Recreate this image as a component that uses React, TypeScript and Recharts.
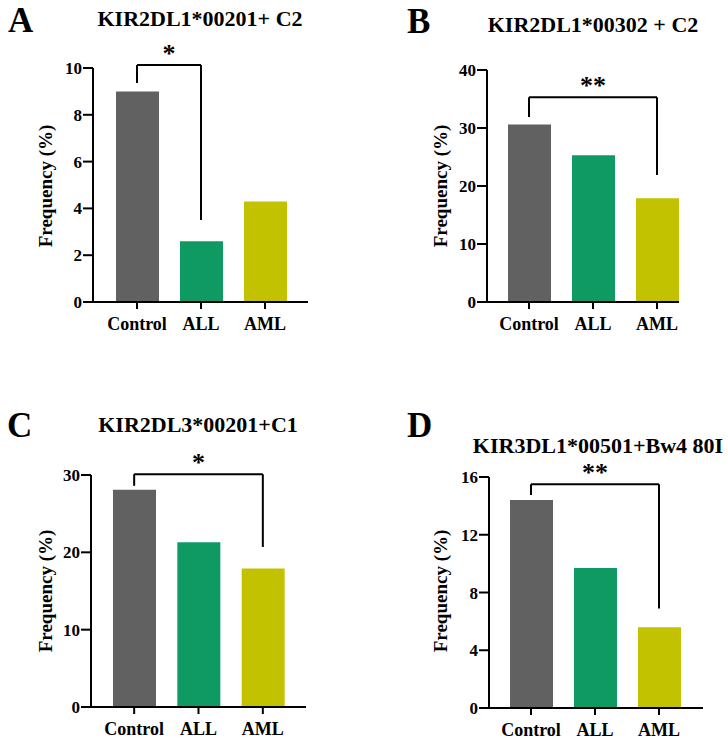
import React from "react";
import { BarChart, Bar, XAxis, YAxis, Cell, ReferenceLine } from "recharts";

const groups = ["Control", "ALL", "AML"];
const groupColors = ["#616161", "#0f9a64", "#c3c200"];

const freqA = [9.0, 2.6, 4.3];
const freqB = [30.6, 25.3, 17.9];
const freqC = [28.1, 21.3, 17.9];
const freqD = [14.4, 9.7, 5.6];

const ticksA = [0, 2, 4, 6, 8, 10];
const ticksB = [0, 10, 20, 30, 40];
const ticksC = [0, 10, 20, 30];
const ticksD = [0, 4, 8, 12, 16];

const titles = [
  "KIR2DL1*00201+ C2",
  "KIR2DL1*00302 + C2",
  "KIR2DL3*00201+C1",
  "KIR3DL1*00501+Bw4 80I",
];
const panelLetters = ["A", "B", "C", "D"];

// significance brackets: [from group, to group, left leg low, top, right leg low]
const bracketA: [string, string, number, number, number] = ["Control", "ALL", 9.36, 10.13, 3.5];
const bracketB: [string, string, number, number, number] = ["Control", "AML", 31.9, 35.3, 21.9];
const bracketC: [string, string, number, number, number] = ["Control", "AML", 28.6, 30.1, 20.7];
const bracketD: [string, string, number, number, number] = ["Control", "AML", 14.75, 15.5, 6.9];
const starsA = "*";
const starsB = "**";
const starsC = "*";
const starsD = "**";

const FONT = "Liberation Serif, DejaVu Serif, serif";
const PANEL_W = 364;
const PANEL_H = 370;

type PanelProps = {
  values: number[];
  ticks: number[];
  bracket: [string, string, number, number, number];
  stars: string;
  margin: { top: number; right: number; bottom: number; left: number };
  pad: { left: number; right: number };
};

function Panel({ values, ticks, bracket, stars, margin, pad }: PanelProps) {
  const data = groups.map((g, i) => ({ group: g, freq: values[i] }));
  const [from, to, lowL, top, lowR] = bracket;
  const line = { stroke: "#000", strokeWidth: 2, ifOverflow: "visible" as const };
  return (
    <BarChart width={PANEL_W} height={PANEL_H} data={data} margin={margin}>
      <XAxis
        dataKey="group"
        height={30}
        padding={pad}
        axisLine={{ stroke: "#000", strokeWidth: 2 }}
        tickLine={{ stroke: "#000", strokeWidth: 2 }}
        tickSize={7}
        tickMargin={8}
        tick={{ fill: "#000", fontSize: 18, fontWeight: 700, fontFamily: FONT }}
      />
      <YAxis
        width={40}
        domain={[0, ticks[ticks.length - 1]]}
        ticks={ticks}
        interval={0}
        axisLine={{ stroke: "#000", strokeWidth: 2 }}
        tickLine={{ stroke: "#000", strokeWidth: 2 }}
        tickSize={10}
        tickMargin={1}
        tick={{ fill: "#000", fontSize: 17, fontWeight: 700, fontFamily: FONT }}
      />
      <Bar dataKey="freq" barSize={43} isAnimationActive={false}>
        {data.map((d, i) => (
          <Cell key={d.group} fill={groupColors[i]} />
        ))}
      </Bar>
      <ReferenceLine {...line} segment={[{ x: from, y: lowL }, { x: from, y: top }]} />
      <ReferenceLine
        {...line}
        segment={[{ x: from, y: top }, { x: to, y: top }]}
        label={{
          value: stars,
          position: "top",
          offset: 3,
          fill: "#000",
          fontSize: 26,
          fontWeight: 700,
          fontFamily: FONT,
        }}
      />
      <ReferenceLine {...line} segment={[{ x: to, y: top }, { x: to, y: lowR }]} />
    </BarChart>
  );
}

const panels = [
  { x: 0, y: 0, values: freqA, ticks: ticksA, bracket: bracketA, stars: starsA,
    margin: { top: 68, right: 56, bottom: 38, left: 53 }, pad: { left: 12, right: 11 } },
  { x: 364, y: 0, values: freqB, ticks: ticksB, bracket: bracketB, stars: starsB,
    margin: { top: 70, right: 49, bottom: 38, left: 83 }, pad: { left: 10, right: -10 } },
  { x: 0, y: 370, values: freqC, ticks: ticksC, bracket: bracketC, stars: starsC,
    margin: { top: 105, right: 58, bottom: 3, left: 51 }, pad: { left: 11, right: 11 } },
  { x: 364, y: 370, values: freqD, ticks: ticksD, bracket: bracketD, stars: starsD,
    margin: { top: 107, right: 25, bottom: 2, left: 85 }, pad: { left: 10, right: 12 } },
];

// title / letter / y-label placement per panel
const titlePos = [
  { x: 200, y: 26 },
  { x: 593, y: 32 },
  { x: 198, y: 432 },
  { x: 598, y: 453 },
];
const letterPos = [
  { x: 8, y: 32 },
  { x: 407, y: 33 },
  { x: 7, y: 437 },
  { x: 407, y: 437 },
];
const ylabelPos = [
  { x: 45, y: 186 },
  { x: 440, y: 186 },
  { x: 45, y: 591 },
  { x: 440, y: 591 },
];

export default function App() {
  return (
    <div
      style={{
        position: "absolute",
        left: 0,
        top: 0,
        width: 728,
        height: 740,
        background: "#fff",
        overflow: "hidden",
      }}
    >
      {panels.map((p, i) => (
        <div key={i} style={{ position: "absolute", left: p.x, top: p.y }}>
          <Panel
            values={p.values}
            ticks={p.ticks}
            bracket={p.bracket}
            stars={p.stars}
            margin={p.margin}
            pad={p.pad}
          />
        </div>
      ))}
      <svg
        width={728}
        height={740}
        style={{ position: "absolute", left: 0, top: 0, pointerEvents: "none", fontFamily: FONT, fontWeight: 700 }}
      >
        {titles.map((t, i) => (
          <text key={t} x={titlePos[i].x} y={titlePos[i].y} fontSize={22} textAnchor="middle">
            {t}
          </text>
        ))}
        {panelLetters.map((l, i) => (
          <text key={l} x={letterPos[i].x} y={letterPos[i].y} fontSize={35}>
            {l}
          </text>
        ))}
        {ylabelPos.map((pos, i) => (
          <text
            key={i}
            x={pos.x}
            y={pos.y}
            fontSize={19}
            textAnchor="middle"
            dominantBaseline="central"
            transform={`rotate(-90 ${pos.x} ${pos.y})`}
          >
            Frequency (%)
          </text>
        ))}
      </svg>
    </div>
  );
}
